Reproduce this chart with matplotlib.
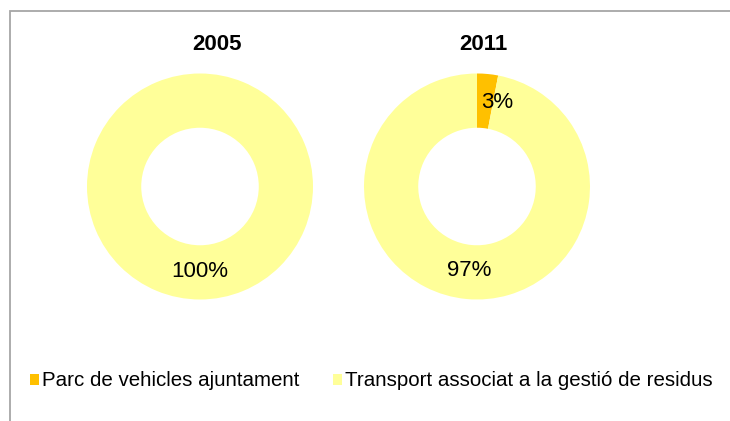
import numpy as np
import matplotlib.pyplot as plt
import matplotlib.patches as mplpatches

plt.rcParams['font.family'] = ['Liberation Sans', 'DejaVu Sans']

years = ['2005', '2011']
categories = ['Parc de vehicles ajuntament', 'Transport associat a la gestió de residus']
parc = [0, 3]
transport = [100, 97]
colors = ['#FFC000', '#FFFF99']

fig_w, fig_h = 7.3, 4.21
fig = plt.figure(figsize=(fig_w, fig_h), dpi=100)

# chart frame (only left and top visible in the reference)
frame = mplpatches.Rectangle((9.5 / 730, -0.1), 1.2, (421 - 10.5) / 421 + 0.1,
                             transform=fig.transFigure, fill=False,
                             edgecolor='#A6A6A6', linewidth=1.3)
fig.patches.append(frame)

centers = [200, 477]
title_x = [217, 483]
radius = 113
cy = 186.5


def fmt(p):
    return '' if p < 0.5 else '%.0f%%' % p


for i, year in enumerate(years):
    cx = centers[i]
    ax = fig.add_axes([(cx - radius) / 730, (421 - cy - radius) / 421,
                       2 * radius / 730, 2 * radius / 421])
    vals = [parc[i], transport[i]]
    wedges, texts, autotexts = ax.pie(vals, colors=colors, startangle=90, counterclock=False,
                                      autopct=fmt, pctdistance=0.75,
                                      wedgeprops=dict(width=0.48, edgecolor='none'),
                                      textprops=dict(fontsize=16, color='black'))
    # small slice label sits a bit to the right in the original
    if parc[i] > 0:
        x, y = autotexts[0].get_position()
        autotexts[0].set_position((x + 0.11, y))
    ax.set_xlim(-1, 1)
    ax.set_ylim(-1, 1)
    ax.set_aspect('auto')
    ax.axis('off')
    fig.text(title_x[i] / 730, 1 - 45 / 421, year, ha='center', va='center',
             fontsize=16, fontweight='bold')

handles = [mplpatches.Patch(facecolor=c, edgecolor='none') for c in colors]
fig.legend(handles, categories, loc='center left', bbox_to_anchor=(30 / 730, 1 - 381 / 421),
           ncol=2, frameon=False, fontsize=14.8, handlelength=0.45, handleheight=0.45,
           handletextpad=0.15, columnspacing=1.6, borderpad=0, borderaxespad=0)

plt.savefig('out.png', dpi=100)
